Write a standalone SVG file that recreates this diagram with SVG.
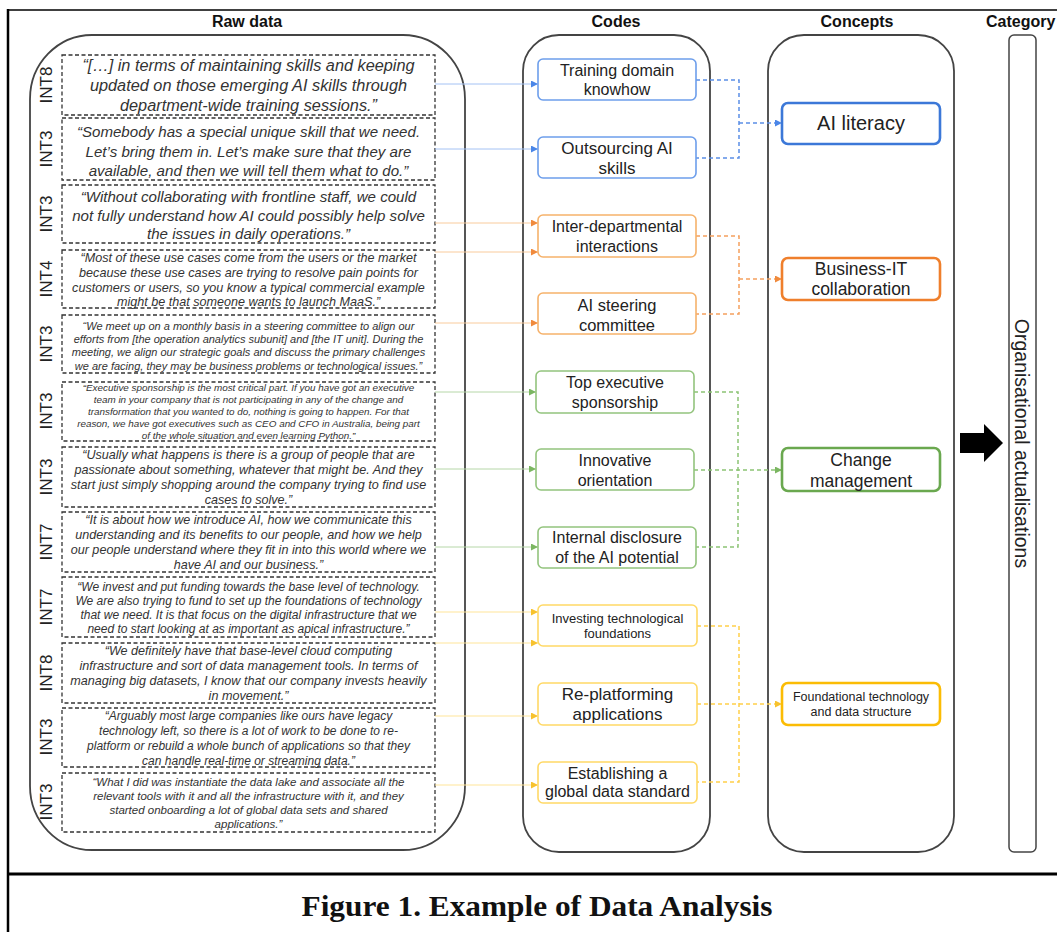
<svg xmlns="http://www.w3.org/2000/svg" width="1057" height="932" viewBox="0 0 1057 932">
<style>
.hd{font-family:"Liberation Sans",Arial,sans-serif;font-weight:bold;font-size:16px;fill:#111;text-anchor:middle}
.q{font-family:"Liberation Sans",Arial,sans-serif;font-style:italic;fill:#333;text-anchor:middle}
.int{font-family:"Liberation Sans",Arial,sans-serif;font-size:17px;fill:#222;text-anchor:middle}
.cd{font-family:"Liberation Sans",Arial,sans-serif;fill:#222;text-anchor:middle}
.raw{fill:none;stroke:#333;stroke-width:1.3;stroke-dasharray:4 2.5}
.cont{fill:none;stroke:#444;stroke-width:1.8}
.cb{fill:#fff;stroke-width:1.6}
.cc{fill:#fff;stroke-width:2.6}
.sl{fill:none;stroke-width:1}
.dl{fill:none;stroke-width:1.5;stroke-dasharray:4 3}
</style>
<defs>
<marker id="mb" markerUnits="userSpaceOnUse" markerWidth="8" markerHeight="8" refX="7" refY="3.5" orient="auto"><path d="M0,0 L7,3.5 L0,7 z" fill="#4a86e8"/></marker>
<marker id="mo" markerUnits="userSpaceOnUse" markerWidth="8" markerHeight="8" refX="7" refY="3.5" orient="auto"><path d="M0,0 L7,3.5 L0,7 z" fill="#f08a3c"/></marker>
<marker id="mg" markerUnits="userSpaceOnUse" markerWidth="8" markerHeight="8" refX="7" refY="3.5" orient="auto"><path d="M0,0 L7,3.5 L0,7 z" fill="#7bb661"/></marker>
<marker id="my" markerUnits="userSpaceOnUse" markerWidth="8" markerHeight="8" refX="7" refY="3.5" orient="auto"><path d="M0,0 L7,3.5 L0,7 z" fill="#f7c22e"/></marker>
</defs>

<!-- frame -->
<g id="frame">
<line x1="8" y1="10" x2="1057" y2="10" stroke="#000" stroke-width="1.5"/>
<line x1="8" y1="9" x2="8" y2="932" stroke="#000" stroke-width="2.5"/>
<line x1="8" y1="874" x2="1057" y2="874" stroke="#000" stroke-width="3"/>
<text x="537" y="916" font-family="'Liberation Serif','Times New Roman',serif" font-weight="bold" font-size="30" text-anchor="middle" textLength="471" lengthAdjust="spacingAndGlyphs" fill="#111">Figure 1. Example of Data Analysis</text>
</g>

<!-- headings -->
<g id="headings">
<text class="hd" x="247" y="27">Raw data</text>
<text class="hd" x="616" y="27">Codes</text>
<text class="hd" x="857" y="27">Concepts</text>
<text class="hd" x="986" y="27" style="text-anchor:start">Category</text>
</g>

<!-- containers -->
<g id="containers">
<rect class="cont" x="30" y="35" width="435" height="815" rx="62" ry="64"/>
<rect class="cont" x="523" y="35" width="187" height="817" rx="36"/>
<rect class="cont" x="768" y="35" width="186" height="817" rx="36"/>
</g>

<!-- raw data -->
<g id="raw1">
<rect class="raw" x="62" y="55" width="373" height="60"/>
<text class="int" transform="translate(52,85) rotate(-90)">INT8</text>
<text class="q" font-size="16.3"><tspan x="248.5" y="71">“[…] in terms of maintaining skills and keeping</tspan><tspan x="248.5" y="91">updated on those emerging AI skills through</tspan><tspan x="248.5" y="111">department-wide training sessions.”</tspan></text>
</g>
<g id="raw2">
<rect class="raw" x="62" y="118" width="373" height="62"/>
<text class="int" transform="translate(52,149) rotate(-90)">INT3</text>
<text class="q" font-size="15.1"><tspan x="248.5" y="137">“Somebody has a special unique skill that we need.</tspan><tspan x="248.5" y="157">Let’s bring them in. Let’s make sure that they are</tspan><tspan x="248.5" y="176">available, and then we will tell them what to do.”</tspan></text>
</g>
<g id="raw3">
<rect class="raw" x="62" y="185" width="373" height="58"/>
<text class="int" transform="translate(52,214) rotate(-90)">INT3</text>
<text class="q" font-size="15.1"><tspan x="248.5" y="202">“Without collaborating with frontline staff, we could</tspan><tspan x="248.5" y="221">not fully understand how AI could possibly help solve</tspan><tspan x="248.5" y="239">the issues in daily operations.”</tspan></text>
</g>
<g id="raw4">
<rect class="raw" x="62" y="250" width="373" height="58"/>
<text class="int" transform="translate(52,279) rotate(-90)">INT4</text>
<text class="q" font-size="12.6"><tspan x="248.5" y="262">“Most of these use cases come from the users or the market</tspan><tspan x="248.5" y="277">because these use cases are trying to resolve pain points for</tspan><tspan x="248.5" y="292">customers or users, so you know a typical commercial example</tspan><tspan x="248.5" y="306">might be that someone wants to launch MaaS.”</tspan></text>
</g>
<g id="raw5">
<rect class="raw" x="62" y="315" width="373" height="58"/>
<text class="int" transform="translate(52,344) rotate(-90)">INT3</text>
<text class="q" font-size="11"><tspan x="248.5" y="330">“We meet up on a monthly basis in a steering committee to align our</tspan><tspan x="248.5" y="343">efforts from [the operation analytics subunit] and [the IT unit]. During the</tspan><tspan x="248.5" y="356">meeting, we align our strategic goals and discuss the primary challenges</tspan><tspan x="248.5" y="370">we are facing, they may be business problems or technological issues.”</tspan></text>
</g>
<g id="raw6">
<rect class="raw" x="62" y="382" width="373" height="59"/>
<text class="int" transform="translate(52,411) rotate(-90)">INT3</text>
<text class="q" font-size="9.9"><tspan x="248.5" y="391">“Executive sponsorship is the most critical part. If you have got an executive</tspan><tspan x="248.5" y="403">team in your company that is not participating in any of the change and</tspan><tspan x="248.5" y="415">transformation that you wanted to do, nothing is going to happen. For that</tspan><tspan x="248.5" y="427">reason, we have got executives such as CEO and CFO in Australia, being part</tspan><tspan x="248.5" y="439">of the whole situation and even learning Python.”</tspan></text>
</g>
<g id="raw7">
<rect class="raw" x="62" y="447" width="373" height="60"/>
<text class="int" transform="translate(52,477) rotate(-90)">INT3</text>
<text class="q" font-size="12.6"><tspan x="248.5" y="459">“Usually what happens is there is a group of people that are</tspan><tspan x="248.5" y="474">passionate about something, whatever that might be. And they</tspan><tspan x="248.5" y="489">start just simply shopping around the company trying to find use</tspan><tspan x="248.5" y="504">cases to solve.”</tspan></text>
</g>
<g id="raw8">
<rect class="raw" x="62" y="512" width="373" height="60"/>
<text class="int" transform="translate(52,542) rotate(-90)">INT7</text>
<text class="q" font-size="12.6"><tspan x="248.5" y="524">“It is about how we introduce AI, how we communicate this</tspan><tspan x="248.5" y="539">understanding and its benefits to our people, and how we help</tspan><tspan x="248.5" y="554">our people understand where they fit in into this world where we</tspan><tspan x="248.5" y="569">have AI and our business.”</tspan></text>
</g>
<g id="raw9">
<rect class="raw" x="62" y="577" width="373" height="60"/>
<text class="int" transform="translate(52,607) rotate(-90)">INT7</text>
<text class="q" font-size="12"><tspan x="248.5" y="591">“We invest and put funding towards the base level of technology.</tspan><tspan x="248.5" y="605">We are also trying to fund to set up the foundations of technology</tspan><tspan x="248.5" y="619">that we need. It is that focus on the digital infrastructure that we</tspan><tspan x="248.5" y="633">need to start looking at as important as apical infrastructure.”</tspan></text>
</g>
<g id="raw10">
<rect class="raw" x="62" y="643" width="373" height="60"/>
<text class="int" transform="translate(52,673) rotate(-90)">INT8</text>
<text class="q" font-size="12.6"><tspan x="248.5" y="655">“We definitely have that base-level cloud computing</tspan><tspan x="248.5" y="670">infrastructure and sort of data management tools. In terms of</tspan><tspan x="248.5" y="685">managing big datasets, I know that our company invests heavily</tspan><tspan x="248.5" y="700">in movement.”</tspan></text>
</g>
<g id="raw11">
<rect class="raw" x="62" y="708" width="373" height="59"/>
<text class="int" transform="translate(52,737) rotate(-90)">INT3</text>
<text class="q" font-size="12"><tspan x="248.5" y="720">“Arguably most large companies like ours have legacy</tspan><tspan x="248.5" y="735">technology left, so there is a lot of work to be done to re-</tspan><tspan x="248.5" y="750">platform or rebuild a whole bunch of applications so that they</tspan><tspan x="248.5" y="765">can handle real-time or streaming data.”</tspan></text>
</g>
<g id="raw12">
<rect class="raw" x="62" y="773" width="373" height="59"/>
<text class="int" transform="translate(52,802) rotate(-90)">INT3</text>
<text class="q" font-size="11.5"><tspan x="248.5" y="786">“What I did was instantiate the data lake and associate all the</tspan><tspan x="248.5" y="800">relevant tools with it and all the infrastructure with it, and they</tspan><tspan x="248.5" y="814">started onboarding a lot of global data sets and shared</tspan><tspan x="248.5" y="828">applications.”</tspan></text>
</g>

<!-- connectors -->
<g id="connectors">
<line class="sl" x1="435" y1="84" x2="538" y2="84" stroke="#a4c2f4" marker-end="url(#mb)"/>
<line class="sl" x1="435" y1="149" x2="538" y2="149" stroke="#a4c2f4" marker-end="url(#mb)"/>
<line class="sl" x1="435" y1="223" x2="538" y2="223" stroke="#f9cb9c" marker-end="url(#mo)"/>
<line class="sl" x1="435" y1="252" x2="538" y2="252" stroke="#f9cb9c" marker-end="url(#mo)"/>
<line class="sl" x1="435" y1="323" x2="538" y2="323" stroke="#f9cb9c" marker-end="url(#mo)"/>
<line class="sl" x1="435" y1="392" x2="536" y2="392" stroke="#b6d7a8" marker-end="url(#mg)"/>
<line class="sl" x1="435" y1="469" x2="536" y2="469" stroke="#b6d7a8" marker-end="url(#mg)"/>
<line class="sl" x1="435" y1="547" x2="538" y2="547" stroke="#b6d7a8" marker-end="url(#mg)"/>
<line class="sl" x1="435" y1="612" x2="538" y2="612" stroke="#ffe599" marker-end="url(#my)"/>
<line class="sl" x1="435" y1="643" x2="538" y2="643" stroke="#ffe599" marker-end="url(#my)"/>
<line class="sl" x1="435" y1="716" x2="538" y2="716" stroke="#ffe599" marker-end="url(#my)"/>
<line class="sl" x1="435" y1="785" x2="538" y2="785" stroke="#ffe599" marker-end="url(#my)"/>

<path class="dl" d="M696,80 H739 V158 H696" stroke="#5b8fe6"/>
<line class="dl" x1="739" y1="123" x2="782" y2="123" stroke="#5b8fe6" marker-end="url(#mb)"/>
<path class="dl" d="M696,236 H739 V314 H696" stroke="#f5a05e"/>
<line class="dl" x1="739" y1="279" x2="782" y2="279" stroke="#f5a05e" marker-end="url(#mo)"/>
<path class="dl" d="M694,392 H738 V547 H696" stroke="#8cc474"/>
<line class="dl" x1="694" y1="470" x2="782" y2="470" stroke="#8cc474" marker-end="url(#mg)"/>
<path class="dl" d="M697,626 H739 V782 H697" stroke="#ffcf4a"/>
<line class="dl" x1="697" y1="704" x2="782" y2="704" stroke="#ffcf4a" marker-end="url(#my)"/>
</g>

<!-- codes -->
<g id="code-training">
<rect class="cb" x="538" y="59" width="158" height="41" rx="5" stroke="#6d9eeb"/>
<text class="cd" font-size="16"><tspan x="617" y="76">Training domain</tspan><tspan x="617" y="95">knowhow</tspan></text>
</g>
<g id="code-outsourcing">
<rect class="cb" x="538" y="137" width="158" height="41" rx="5" stroke="#6d9eeb"/>
<text class="cd" font-size="17"><tspan x="617" y="154">Outsourcing AI</tspan><tspan x="617" y="174">skills</tspan></text>
</g>
<g id="code-interdept">
<rect class="cb" x="538" y="215" width="158" height="42" rx="5" stroke="#f6b26b"/>
<text class="cd" font-size="16"><tspan x="617" y="232">Inter-departmental</tspan><tspan x="617" y="252">interactions</tspan></text>
</g>
<g id="code-steering">
<rect class="cb" x="538" y="293" width="158" height="41" rx="5" stroke="#f6b26b"/>
<text class="cd" font-size="16.5"><tspan x="617" y="311">AI steering</tspan><tspan x="617" y="331">committee</tspan></text>
</g>
<g id="code-topexec">
<rect class="cb" x="536" y="371" width="158" height="42" rx="5" stroke="#93c47d"/>
<text class="cd" font-size="16"><tspan x="615" y="388">Top executive</tspan><tspan x="615" y="408">sponsorship</tspan></text>
</g>
<g id="code-innovative">
<rect class="cb" x="536" y="449" width="158" height="41" rx="5" stroke="#93c47d"/>
<text class="cd" font-size="16"><tspan x="615" y="466">Innovative</tspan><tspan x="615" y="486">orientation</tspan></text>
</g>
<g id="code-disclosure">
<rect class="cb" x="538" y="527" width="158" height="41" rx="5" stroke="#93c47d"/>
<text class="cd" font-size="16"><tspan x="617" y="543">Internal disclosure</tspan><tspan x="617" y="563">of the AI potential</tspan></text>
</g>
<g id="code-investing">
<rect class="cb" x="538" y="605" width="159" height="41" rx="5" stroke="#ffd966"/>
<text class="cd" font-size="13"><tspan x="617.5" y="623">Investing technological</tspan><tspan x="617.5" y="638">foundations</tspan></text>
</g>
<g id="code-replatforming">
<rect class="cb" x="538" y="683" width="159" height="42" rx="5" stroke="#ffd966"/>
<text class="cd" font-size="17"><tspan x="617.5" y="700">Re-platforming</tspan><tspan x="617.5" y="720">applications</tspan></text>
</g>
<g id="code-standard">
<rect class="cb" x="538" y="762" width="159" height="41" rx="5" stroke="#ffd966"/>
<text class="cd" font-size="16"><tspan x="617.5" y="779">Establishing a</tspan><tspan x="617.5" y="797">global data standard</tspan></text>
</g>

<!-- concepts -->
<g id="concept-ailiteracy">
<rect class="cc" x="782" y="103" width="158" height="41" rx="6" stroke="#3c78d8"/>
<text class="cd" font-size="20" x="861" y="130">AI literacy</text>
</g>
<g id="concept-businessit">
<rect class="cc" x="782" y="258" width="158" height="42" rx="6" stroke="#ef7f2c"/>
<text class="cd" font-size="17.5"><tspan x="861" y="275">Business-IT</tspan><tspan x="861" y="295">collaboration</tspan></text>
</g>
<g id="concept-change">
<rect class="cc" x="782" y="448" width="158" height="43" rx="6" stroke="#6aa84f"/>
<text class="cd" font-size="17.5"><tspan x="861" y="466">Change</tspan><tspan x="861" y="487">management</tspan></text>
</g>
<g id="concept-foundational">
<rect class="cc" x="782" y="683" width="158" height="42" rx="6" stroke="#fbbc04"/>
<text class="cd" font-size="12.5"><tspan x="861" y="701">Foundational technology</tspan><tspan x="861" y="716">and data structure</tspan></text>
</g>

<!-- category -->
<g id="category">
<polygon points="960,433 984,433 984,424 1003,443 984,462 984,453 960,453" fill="#000"/>
<rect x="1009" y="35" width="27" height="817" rx="5" fill="#fff" stroke="#444" stroke-width="1.5"/>
<text class="cd" font-size="19.5" transform="translate(1015,443.5) rotate(90)">Organisational actualisations</text>
</g>
</svg>
